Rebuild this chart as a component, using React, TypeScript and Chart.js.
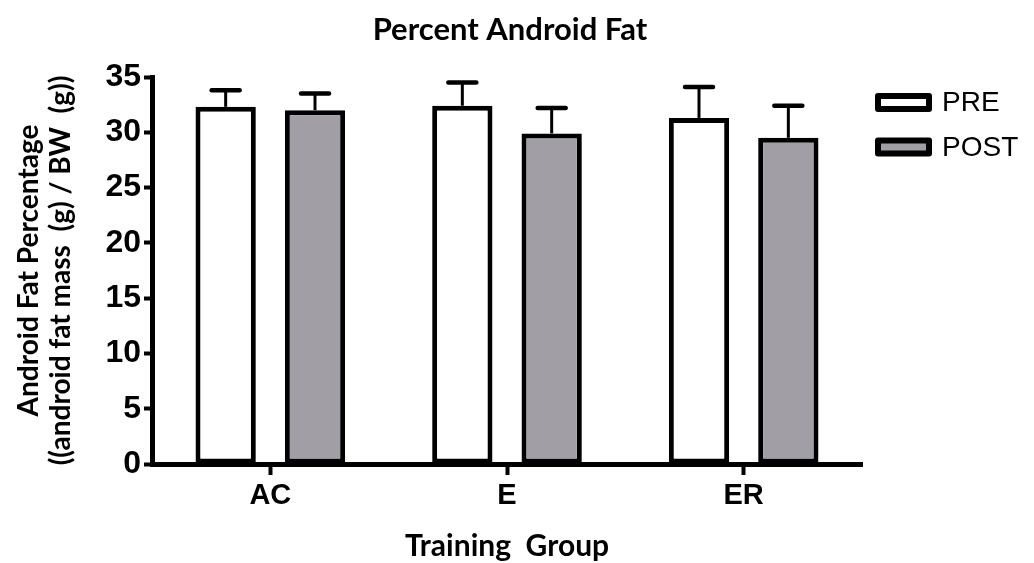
import React, { useEffect, useRef } from 'react';
import { Chart, registerables } from 'chart.js';

Chart.register(...registerables);

// Group labels along the x axis
const categories = ['AC', 'E', 'ER'];

// Series names
const seriesNames = ['PRE', 'POST'];

// Mean android fat percentage per group
const preMeans = [32.3, 32.4, 31.3];
const postMeans = [32.0, 29.9, 29.5];

// Upper error (SEM) per group
const preErrors = [1.5, 2.1, 2.8];
const postErrors = [1.5, 2.3, 2.9];

// Y axis ticks
const yTickValues = [0, 5, 10, 15, 20, 25, 30, 35];

const seriesFills = ['#ffffff', '#a19fa5'];
const seriesErrors = [preErrors, postErrors];

const TITLE_FONT = 'Lato';
const AXIS_FONT = '"Liberation Sans"';

const errorBarPlugin = {
  id: 'errorBars',
  afterDatasetsDraw(chart: any) {
    const ctx = chart.ctx;
    const yScale = chart.scales.y;
    chart.data.datasets.forEach((ds: any, i: number) => {
      const meta = chart.getDatasetMeta(i);
      const errs = seriesErrors[i];
      meta.data.forEach((bar: any, j: number) => {
        const top = yScale.getPixelForValue(ds.data[j] + errs[j]);
        ctx.save();
        ctx.strokeStyle = '#000';
        ctx.lineCap = 'butt';
        ctx.lineWidth = 3;
        ctx.beginPath();
        ctx.moveTo(bar.x, bar.y);
        ctx.lineTo(bar.x, top);
        ctx.stroke();
        ctx.lineWidth = 4.5;
        ctx.lineCap = 'round';
        ctx.beginPath();
        ctx.moveTo(bar.x - 14, top);
        ctx.lineTo(bar.x + 14, top);
        ctx.stroke();
        ctx.restore();
      });
    });
  },
};

const sideLegendPlugin = {
  id: 'sideLegend',
  afterDraw(chart: any) {
    const ctx = chart.ctx;
    const area = chart.chartArea;
    chart.data.datasets.forEach((ds: any, i: number) => {
      const bx = area.right + 16;
      const cy = area.top + 25.5 + i * 44.5;
      const w = 51;
      const h = 13;
      ctx.save();
      ctx.fillStyle = ds.backgroundColor;
      ctx.fillRect(bx, cy - h / 2, w, h);
      ctx.strokeStyle = '#000';
      ctx.lineWidth = 6;
      ctx.lineJoin = 'round';
      ctx.strokeRect(bx, cy - h / 2, w, h);
      ctx.fillStyle = '#000';
      ctx.font = `28px ${AXIS_FONT}`;
      ctx.textBaseline = 'middle';
      ctx.textAlign = 'left';
      ctx.fillText(ds.label, bx + w + 13, cy + 1);
      ctx.restore();
    });
  },
};

export default function App() {
  const canvasRef = useRef<HTMLCanvasElement | null>(null);

  useEffect(() => {
    document.body.style.margin = '0';
    const canvas = canvasRef.current;
    if (!canvas) return;

    const chart = new Chart(canvas, {
      type: 'bar',
      data: {
        labels: categories,
        datasets: [preMeans, postMeans].map((values, i) => ({
          label: seriesNames[i],
          data: values,
          backgroundColor: seriesFills[i],
          borderColor: '#000',
          borderWidth: 5,
          borderSkipped: false,
          categoryPercentage: 0.755,
          barPercentage: 0.675,
        })),
      },
      options: {
        responsive: false,
        animation: false,
        layout: { padding: { left: 0, right: 14, top: 0, bottom: 0 } },
        plugins: {
          legend: { display: false },
          tooltip: { enabled: false },
          title: {
            display: true,
            text: 'Percent Android Fat',
            color: '#000',
            font: { family: TITLE_FONT, size: 31, weight: 'bold', lineHeight: 1.2 },
            padding: { top: 11, bottom: 28.8 },
          },
        },
        scales: {
          x: {
            grid: {
              drawOnChartArea: false,
              offset: false,
              tickLength: 11,
              tickWidth: 4,
              color: '#000',
            },
            border: { display: true, color: '#000', width: 5 },
            ticks: {
              color: '#000',
              padding: 4,
              font: { family: AXIS_FONT, size: 29, weight: 'bold' },
            },
            title: {
              display: true,
              text: 'Training  Group',
              color: '#000',
              font: { family: TITLE_FONT, size: 30, weight: 'bold', lineHeight: 1.0 },
              padding: { top: 0, bottom: 2 },
            },
            afterFit(scale: any) {
              scale.height = 99;
            },
          },
          y: {
            min: 0,
            max: 35,
            afterBuildTicks(scale: any) {
              scale.ticks = yTickValues.map((v) => ({ value: v }));
            },
            grid: {
              drawOnChartArea: false,
              tickLength: 8,
              tickWidth: 4,
              color: '#000',
            },
            border: { display: true, color: '#000', width: 5 },
            ticks: {
              color: '#000',
              padding: 3,
              font: { family: AXIS_FONT, size: 32, weight: 'bold' },
            },
            title: {
              display: true,
              text: ['Android Fat Percentage', '((android fat mass  (g) / BW  (g))'],
              color: '#000',
              font: { family: TITLE_FONT, size: 28, weight: 'bold', lineHeight: 1.15 },
              padding: { top: 13, bottom: 0 },
            },
            afterFit(scale: any) {
              scale.width = 152;
            },
          },
          // Empty right-hand axis that reserves room for the legend
          legendSpace: {
            type: 'linear',
            position: 'right',
            display: true,
            grid: { display: false },
            border: { display: false },
            ticks: { display: false },
            afterFit(scale: any) {
              scale.width = 158;
            },
          },
        },
      },
      plugins: [errorBarPlugin, sideLegendPlugin],
    });

    return () => chart.destroy();
  }, []);

  return (
    <div style={{ width: 1034, height: 563 }}>
      <canvas ref={canvasRef} width={1034} height={563} style={{ display: 'block' }} />
    </div>
  );
}
